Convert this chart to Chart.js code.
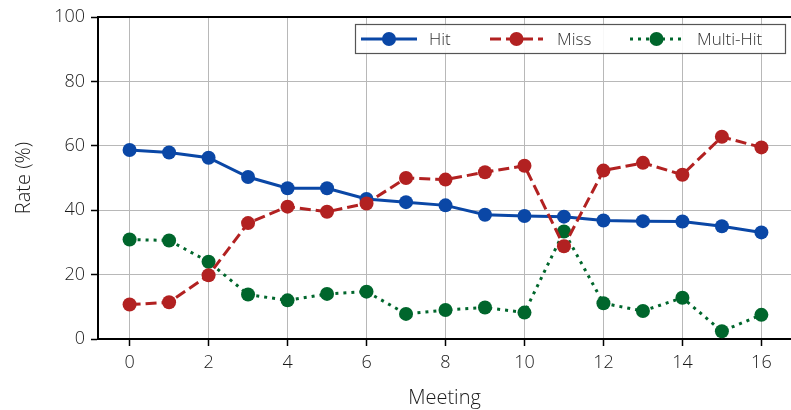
<!DOCTYPE html>
<html>
<head>
<meta charset="utf-8">
<script src="https://cdn.jsdelivr.net/npm/chart.js@4"></script>
<style>
  html, body { margin: 0; padding: 0; background: #fff; overflow: hidden; }
  #wrap { width: 791px; height: 410px; position: relative; }
</style>
</head>
<body>
<div id="wrap"><canvas id="c" width="791" height="410"></canvas></div>
<script>
// Meeting index on the x axis
const meetings = [0, 1, 2, 3, 4, 5, 6, 7, 8, 9, 10, 11, 12, 13, 14, 15, 16];

// Rates per meeting, in percent
const hitRate = [58.7, 57.9, 56.3, 50.3, 46.8, 46.8, 43.5, 42.5, 41.5, 38.6, 38.2, 38.0, 36.8, 36.6, 36.5, 35.0, 33.1];
const missRate = [10.7, 11.4, 19.8, 36.0, 41.1, 39.5, 42.1, 50.0, 49.5, 51.8, 53.8, 28.8, 52.3, 54.7, 51.0, 62.8, 59.5];
const multiHitRate = [30.9, 30.6, 24.0, 13.8, 12.0, 14.0, 14.7, 7.8, 9.0, 9.8, 8.2, 33.4, 11.1, 8.7, 12.8, 2.4, 7.5];

// Tick labels
const xTicks = [0, 2, 4, 6, 8, 10, 12, 14, 16];
const yTicks = [0, 20, 40, 60, 80, 100];

const FONT = "'Open Sans', 'DejaVu Sans', sans-serif";
const BLUE = '#0a47a6';
const RED = '#b22121';
const GREEN = '#00662c';

const toPoints = (vals) => vals.map((v, i) => ({ x: meetings[i], y: v }));

const series = [
  { label: 'Hit', data: hitRate, color: BLUE, dash: [], order: 1 },
  { label: 'Miss', data: missRate, color: RED, dash: [11, 5], order: 0 },
  { label: 'Multi-Hit', data: multiHitRate, color: GREEN, dash: [3, 5], order: 2 }
];

// Top spine and framed legend with line + marker handles
const framePlugin = {
  id: 'frame',
  afterDraw(chart) {
    const { ctx, chartArea } = chart;
    ctx.save();
    ctx.strokeStyle = '#000';
    ctx.lineWidth = 2;
    ctx.beginPath();
    ctx.moveTo(chartArea.left - 1, chartArea.top);
    ctx.lineTo(chart.width, chartArea.top);
    ctx.stroke();

    // legend box
    const bx = 355.5, by = 24.5, bw = 430, bh = 29;
    ctx.fillStyle = 'rgba(255,255,255,0.9)';
    ctx.fillRect(bx, by, bw, bh);
    ctx.strokeStyle = '#555';
    ctx.lineWidth = 1.2;
    ctx.strokeRect(bx, by, bw, bh);

    const cy = by + bh / 2;
    const entries = [
      { x0: 361, x1: 417, tx: 429 },
      { x0: 490, x1: 543, tx: 557 },
      { x0: 630, x1: 683, tx: 697 }
    ];
    series.forEach((s, i) => {
      const e = entries[i];
      ctx.strokeStyle = s.color;
      ctx.lineWidth = 3;
      ctx.setLineDash(s.dash);
      ctx.beginPath();
      ctx.moveTo(e.x0, cy);
      ctx.lineTo(e.x1, cy);
      ctx.stroke();
      ctx.setLineDash([]);
      ctx.fillStyle = s.color;
      ctx.beginPath();
      ctx.arc((e.x0 + e.x1) / 2, cy, 7, 0, Math.PI * 2);
      ctx.fill();
      ctx.fillStyle = '#333';
      ctx.font = '300 17px ' + FONT;
      ctx.textBaseline = 'middle';
      ctx.textAlign = 'left';
      ctx.fillText(s.label, e.tx, cy + 1);
    });
    ctx.restore();
  }
};

new Chart(document.getElementById('c'), {
  type: 'line',
  data: {
    datasets: series.map(s => ({
      label: s.label,
      data: toPoints(s.data),
      borderColor: s.color,
      backgroundColor: s.color,
      borderWidth: 3,
      borderDash: s.dash,
      pointRadius: 7,
      pointHoverRadius: 7,
      pointBorderWidth: 0,
      pointBackgroundColor: s.color,
      tension: 0,
      order: s.order,
      clip: false
    }))
  },
  options: {
    responsive: false,
    animation: false,
    events: [],
    layout: { autoPadding: false, padding: { top: 17, right: 0, left: 0, bottom: 0 } },
    plugins: { legend: { display: false }, tooltip: { enabled: false } },
    scales: {
      x: {
        type: 'linear',
        min: -0.8,
        max: 16.75,
        afterBuildTicks: (scale) => { scale.ticks = xTicks.map(v => ({ value: v })); },
        afterFit: (scale) => { scale.height = 71; },
        ticks: {
          font: { family: FONT, size: 18, weight: '300' },
          color: '#1a1a1a',
          padding: 6,
          maxRotation: 0,
          autoSkip: false
        },
        grid: { color: '#b8b8b8', lineWidth: 1, tickColor: '#000', tickLength: 7, tickWidth: 1.5 },
        border: { color: '#000', width: 2 },
        title: {
          display: true,
          text: 'Meeting',
          font: { family: FONT, size: 20, weight: '300' },
          color: '#1a1a1a',
          padding: { top: 4, bottom: 0 }
        }
      },
      y: {
        min: 0,
        max: 100,
        afterBuildTicks: (scale) => { scale.ticks = yTicks.map(v => ({ value: v })); },
        afterFit: (scale) => { scale.width = 98; },
        ticks: {
          font: { family: FONT, size: 18, weight: '300' },
          color: '#1a1a1a',
          padding: 6
        },
        grid: { color: '#b8b8b8', lineWidth: 1, tickColor: '#000', tickLength: 7, tickWidth: 1.5 },
        border: { color: '#000', width: 2 },
        title: {
          display: true,
          text: 'Rate (%)',
          font: { family: FONT, size: 20, weight: '300' },
          color: '#1a1a1a',
          padding: { top: 12, bottom: 0 }
        }
      }
    }
  },
  plugins: [framePlugin]
});
</script>
</body>
</html>
